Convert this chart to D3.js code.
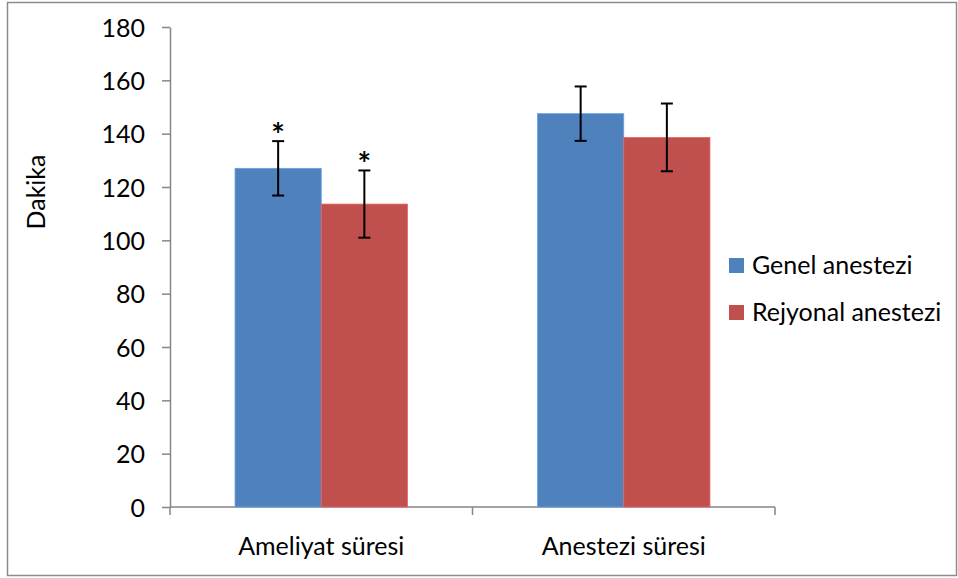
<!DOCTYPE html>
<html>
<head>
<meta charset="utf-8">
<script src="https://cdn.jsdelivr.net/npm/d3@7"></script>
<style>
  body { margin: 0; background: #fff; }
  text { font-family: Lato, "Open Sans", sans-serif; fill: #000; }
</style>
</head>
<body>
<div class="chart"></div>
<script>
const categories = ['Ameliyat süresi', 'Anestezi süresi']
const seriesNames = ['Genel anestezi', 'Rejyonal anestezi']
const genelValues = [127, 147.5]
const genelErrors = [10.2, 10.2]
const rejyonalValues = [113.6, 138.6]
const rejyonalErrors = [12.6, 12.7]
const significant = [[true, true], [false, false]]   // [category][series]
const yTicks = [0, 20, 40, 60, 80, 100, 120, 140, 160, 180]

const colors = ['#4f81bd', '#c0504d']
const fontSize = 25

const width = 958, height = 578
const svg = d3.select('.chart').append('svg')
  .attr('width', width).attr('height', height)

// outer frame
svg.append('rect')
  .attr('x', 7.5).attr('y', 2.5)
  .attr('width', 949).attr('height', 573)
  .attr('fill', '#fff').attr('stroke', '#8c8c8c').attr('stroke-width', 1.5)

const plot = {left: 170, right: 775, top: 27, bottom: 507}

const x = d3.scaleBand()
  .domain(categories)
  .range([plot.left, plot.right])
  .paddingInner(0.43).paddingOuter(0.215)

const xSub = d3.scaleBand()
  .domain(seriesNames)
  .range([0, x.bandwidth()])

const y = d3.scaleLinear().domain([0, 180]).range([plot.bottom, plot.top])

// y axis
const yAxis = svg.append('g')
  .attr('transform', `translate(${plot.left},0)`)
  .call(d3.axisLeft(y).tickValues(yTicks).tickSize(8).tickPadding(17).tickSizeOuter(0))
yAxis.select('.domain').attr('stroke', '#868686').attr('stroke-width', 1.5)
yAxis.selectAll('.tick line').attr('stroke', '#868686').attr('stroke-width', 1.5)
yAxis.selectAll('.tick text')
  .attr('font-size', fontSize)
  .attr('dy', '0.36em')
  .style('font-family', 'Lato, sans-serif')

// x axis (ticks at band boundaries)
svg.append('line')
  .attr('x1', plot.left).attr('x2', plot.right)
  .attr('y1', plot.bottom).attr('y2', plot.bottom)
  .attr('stroke', '#868686').attr('stroke-width', 1.5)
const step = (plot.right - plot.left) / categories.length
svg.selectAll('.xtick')
  .data(d3.range(categories.length + 1))
  .join('line')
  .attr('x1', d => plot.left + d * step).attr('x2', d => plot.left + d * step)
  .attr('y1', plot.bottom).attr('y2', plot.bottom + 8)
  .attr('stroke', '#868686').attr('stroke-width', 1.5)
svg.selectAll('.xlabel')
  .data(categories)
  .join('text')
  .attr('x', d => x(d) + x.bandwidth() / 2)
  .attr('y', plot.bottom + 48)
  .attr('text-anchor', 'middle')
  .attr('font-size', fontSize)
  .text(d => d)

// y title
svg.append('text')
  .attr('transform', 'translate(45,192) rotate(-90)')
  .attr('text-anchor', 'middle')
  .attr('font-size', fontSize)
  .text('Dakika')

// bars
const rows = categories.map((c, i) => [
  {cat: c, s: seriesNames[0], v: genelValues[i], e: genelErrors[i], sig: significant[i][0], color: colors[0]},
  {cat: c, s: seriesNames[1], v: rejyonalValues[i], e: rejyonalErrors[i], sig: significant[i][1], color: colors[1]}
]).flat()

svg.selectAll('.bar')
  .data(rows)
  .join('rect')
  .attr('x', d => x(d.cat) + xSub(d.s))
  .attr('y', d => y(d.v))
  .attr('width', xSub.bandwidth())
  .attr('height', d => y(0) - y(d.v))
  .attr('fill', d => d.color)
  .attr('stroke', d => d3.color(d.color).brighter(0.6))
  .attr('stroke-width', 0.8)

// error bars
const eb = svg.selectAll('.err').data(rows).join('g')
  .attr('transform', d => `translate(${x(d.cat) + xSub(d.s) + xSub.bandwidth() / 2},0)`)
eb.append('line')
  .attr('y1', d => y(d.v + d.e)).attr('y2', d => y(d.v - d.e))
  .attr('stroke', '#000').attr('stroke-width', 2)
eb.selectAll('.cap')
  .data(d => [d.v + d.e, d.v - d.e])
  .join('line')
  .attr('x1', -6).attr('x2', 6)
  .attr('y1', d => y(d)).attr('y2', d => y(d))
  .attr('stroke', '#000').attr('stroke-width', 2)
eb.filter(d => d.sig).append('text')
  .attr('y', d => y(d.v + d.e) + 6)
  .attr('text-anchor', 'middle')
  .attr('font-size', 32)
  .attr('font-weight', 'bold')
  .text('*')

// legend
const legend = svg.selectAll('.legend')
  .data(seriesNames)
  .join('g')
  .attr('transform', (d, i) => `translate(729,${258 + i * 47})`)
legend.append('rect')
  .attr('width', 15).attr('height', 15)
  .attr('fill', (d, i) => colors[i])
legend.append('text')
  .attr('x', 23).attr('y', 16)
  .attr('font-size', fontSize)
  .text(d => d)
</script>
</body>
</html>
